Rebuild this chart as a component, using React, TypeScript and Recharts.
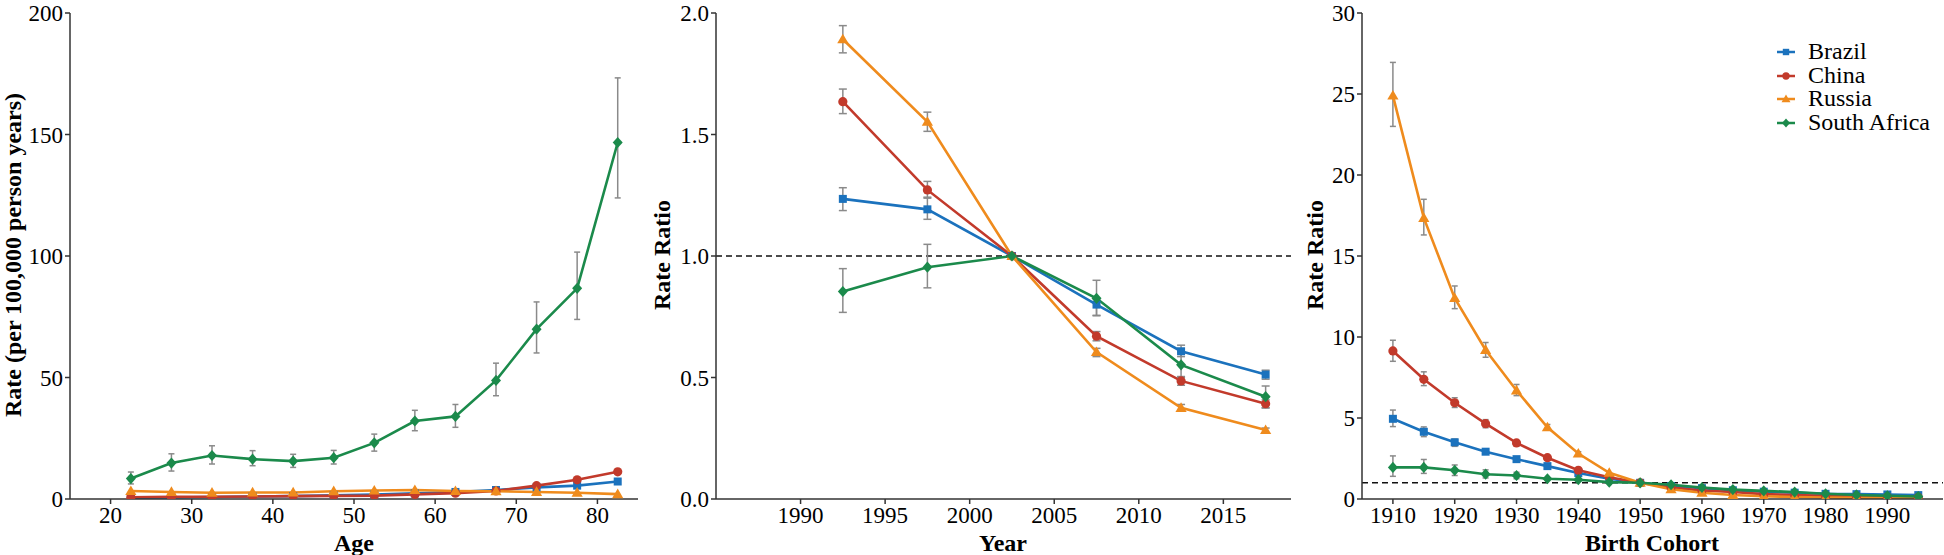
import { ErrorBar, Legend, Line, LineChart, ReferenceLine, XAxis, YAxis } from 'recharts'

// ---- colours ----
const BLUE = '#1b72bd'
const RED = '#c23a2b'
const ORANGE = '#ef8b1d'
const GREEN = '#1b8a4b'
const ERR = '#8a8a8a'

// ---- panel 1: age ----
const ageGroups = [22.5, 27.5, 32.5, 37.5, 42.5, 47.5, 52.5, 57.5, 62.5, 67.5, 72.5, 77.5, 82.5]
const ageTicks = [20, 30, 40, 50, 60, 70, 80]
const rateTicks = [0, 50, 100, 150, 200]
const brazilAge = [0.5, 0.6, 0.8, 1.0, 1.2, 1.5, 1.8, 2.3, 2.9, 3.7, 4.8, 5.5, 7.2]
const chinaAge = [0.7, 0.9, 0.9, 1.0, 1.2, 1.3, 1.4, 1.9, 2.4, 3.3, 5.5, 7.9, 11.2]
const russiaAge = [3.3, 2.9, 2.6, 2.7, 2.7, 3.2, 3.5, 3.7, 3.3, 3.2, 2.9, 2.6, 2.0]
const southAfricaAge = [8.4, 14.8, 17.9, 16.4, 15.6, 17.0, 23.1, 32.1, 34.0, 48.8, 69.9, 86.7, 146.7]
const southAfricaAgeLow = [6.2, 11.5, 14.4, 13.7, 13.0, 14.4, 19.7, 28.1, 29.5, 42.5, 60.1, 73.9, 123.9]
const southAfricaAgeHigh = [11.1, 18.6, 21.9, 19.9, 18.4, 20.0, 26.7, 36.5, 38.9, 55.9, 81.1, 101.6, 173.3]

// ---- panel 2: period ----
const periods = [1992.5, 1997.5, 2002.5, 2007.5, 2012.5, 2017.5]
const yearTicks = [1990, 1995, 2000, 2005, 2010, 2015]
const periodRatioTicks = [0, 0.5, 1, 1.5, 2]
const brazilPeriod = [1.235, 1.192, 1, 0.8, 0.608, 0.512]
const brazilPeriodLow = [1.187, 1.151, null, 0.756, 0.586, 0.493]
const brazilPeriodHigh = [1.281, 1.238, null, 0.824, 0.633, 0.53]
const chinaPeriod = [1.635, 1.272, 1, 0.67, 0.486, 0.392]
const chinaPeriodLow = [1.586, 1.242, null, 0.651, 0.468, 0.375]
const chinaPeriodHigh = [1.687, 1.307, null, 0.689, 0.504, 0.408]
const russiaPeriod = [1.892, 1.552, 1, 0.605, 0.375, 0.284]
const russiaPeriodLow = [1.836, 1.513, null, 0.586, 0.363, 0.271]
const russiaPeriodHigh = [1.948, 1.592, null, 0.62, 0.389, 0.292]
const southAfricaPeriod = [0.854, 0.954, 1, 0.826, 0.552, 0.421]
const southAfricaPeriodLow = [0.768, 0.869, null, 0.754, 0.5, 0.375]
const southAfricaPeriodHigh = [0.948, 1.048, null, 0.9, 0.605, 0.465]

// ---- panel 3: birth cohort ----
const cohorts = [1910, 1915, 1920, 1925, 1930, 1935, 1940, 1945, 1950, 1955, 1960, 1965, 1970, 1975, 1980, 1985, 1990, 1995]
const cohortTicks = [1910, 1920, 1930, 1940, 1950, 1960, 1970, 1980, 1990]
const cohortRatioTicks = [0, 5, 10, 15, 20, 25, 30]
const brazilCohort = [4.95, 4.15, 3.5, 2.92, 2.46, 2.03, 1.6, 1.25, 1.0, 0.8, 0.67, 0.54, 0.45, 0.39, 0.32, 0.3, 0.28, 0.24]
const brazilCohortLow = [4.47, 3.85, 3.25, 2.8, null, null, null, null, null, null, null, null, null, null, null, null, null, null]
const brazilCohortHigh = [5.49, 4.45, 3.7, 3.05, null, null, null, null, null, null, null, null, null, null, null, null, null, null]
const chinaCohort = [9.14, 7.39, 5.94, 4.65, 3.46, 2.55, 1.77, 1.34, 1.0, 0.71, 0.52, 0.43, 0.3, 0.24, 0.19, 0.15, 0.12, 0.1]
const chinaCohortLow = [8.5, 7.0, 5.65, 4.4, 3.3, null, null, null, null, null, null, null, null, null, null, null, null, null]
const chinaCohortHigh = [9.8, 7.85, 6.25, 4.9, 3.6, null, null, null, null, null, null, null, null, null, null, null, null, null]
const russiaCohort = [24.9, 17.35, 12.4, 9.2, 6.7, 4.43, 2.81, 1.62, 1.0, 0.6, 0.39, 0.25, 0.17, 0.12, 0.09, 0.07, 0.06, 0.05]
const russiaCohortLow = [23.0, 16.3, 11.75, 8.75, 6.38, 4.25, 2.7, null, null, null, null, null, null, null, null, null, null, null]
const russiaCohortHigh = [26.95, 18.5, 13.15, 9.66, 7.07, 4.6, 2.92, null, null, null, null, null, null, null, null, null, null, null]
const southAfricaCohort = [1.95, 1.95, 1.77, 1.53, 1.45, 1.25, 1.19, 1.04, 1.0, 0.88, 0.71, 0.58, 0.5, 0.43, 0.32, 0.25, 0.2, 0.15]
const southAfricaCohortLow = [1.4, 1.58, 1.45, 1.3, 1.25, null, null, null, null, null, null, null, null, null, null, null, null, null]
const southAfricaCohortHigh = [2.66, 2.44, 2.1, 1.8, 1.65, null, null, null, null, null, null, null, null, null, null, null, null, null]

const FONT = "'Liberation Serif', 'Times New Roman', serif"

type Bound = number | null | undefined

const err = (v: number, lo: Bound, hi: Bound) => (lo == null || hi == null ? null : [v - lo, hi - v])

const ageRows = ageGroups.map((x, i) => ({
  x,
  brazil: brazilAge[i],
  china: chinaAge[i],
  russia: russiaAge[i],
  sa: southAfricaAge[i],
  saErr: err(southAfricaAge[i], southAfricaAgeLow[i], southAfricaAgeHigh[i]),
}))

const periodRows = periods.map((x, i) => ({
  x,
  brazil: brazilPeriod[i],
  brazilErr: err(brazilPeriod[i], brazilPeriodLow[i], brazilPeriodHigh[i]),
  china: chinaPeriod[i],
  chinaErr: err(chinaPeriod[i], chinaPeriodLow[i], chinaPeriodHigh[i]),
  russia: russiaPeriod[i],
  russiaErr: err(russiaPeriod[i], russiaPeriodLow[i], russiaPeriodHigh[i]),
  sa: southAfricaPeriod[i],
  saErr: err(southAfricaPeriod[i], southAfricaPeriodLow[i], southAfricaPeriodHigh[i]),
}))

const cohortRows = cohorts.map((x, i) => ({
  x,
  brazil: brazilCohort[i],
  brazilErr: err(brazilCohort[i], brazilCohortLow[i], brazilCohortHigh[i]),
  china: chinaCohort[i],
  chinaErr: err(chinaCohort[i], chinaCohortLow[i], chinaCohortHigh[i]),
  russia: russiaCohort[i],
  russiaErr: err(russiaCohort[i], russiaCohortLow[i], russiaCohortHigh[i]),
  sa: southAfricaCohort[i],
  saErr: err(southAfricaCohort[i], southAfricaCohortLow[i], southAfricaCohortHigh[i]),
}))

type Shape = 'square' | 'circle' | 'triangle' | 'diamond'

function Marker({ cx, cy, shape, color, s = 1 }: { cx: number; cy: number; shape: Shape; color: string; s?: number }) {
  if (shape === 'square') return <rect x={cx - 4 * s} y={cy - 4 * s} width={8 * s} height={8 * s} fill={color} />
  if (shape === 'circle') return <circle cx={cx} cy={cy} r={4.6 * s} fill={color} />
  if (shape === 'triangle')
    return (
      <polygon
        points={`${cx},${cy - 5.6 * s} ${cx - 5.6 * s},${cy + 4 * s} ${cx + 5.6 * s},${cy + 4 * s}`}
        fill={color}
      />
    )
  return (
    <polygon
      points={`${cx},${cy - 5.6 * s} ${cx + 5 * s},${cy} ${cx},${cy + 5.6 * s} ${cx - 5 * s},${cy}`}
      fill={color}
    />
  )
}

const dot = (shape: Shape, color: string) => (p: any) => {
  if (p.cx == null || p.cy == null) return <g key={p.index} />
  return <Marker key={p.index} cx={p.cx} cy={p.cy} shape={shape} color={color} />
}

const countries = [
  { key: 'brazil', name: 'Brazil', color: BLUE, shape: 'square' as Shape },
  { key: 'china', name: 'China', color: RED, shape: 'circle' as Shape },
  { key: 'russia', name: 'Russia', color: ORANGE, shape: 'triangle' as Shape },
  { key: 'sa', name: 'South Africa', color: GREEN, shape: 'diamond' as Shape },
]

const tickStyle = { fontFamily: FONT, fontSize: 23, fill: '#000' }
const axisStroke = { stroke: '#333', strokeWidth: 1.5 }

function CountryLegend() {
  return (
    <div style={{ fontFamily: FONT, fontSize: 24, color: '#000' }}>
      {countries.map((c) => (
        <div key={c.key} style={{ display: 'flex', alignItems: 'center', height: 23.7 }}>
          <svg width={18} height={16} style={{ marginRight: 13 }}>
            <line x1={0} y1={8} x2={18} y2={8} stroke={c.color} strokeWidth={2.5} />
            <Marker cx={9} cy={8} shape={c.shape} color={c.color} s={0.8} />
          </svg>
          <span style={{ lineHeight: '23.7px' }}>{c.name}</span>
        </div>
      ))}
    </div>
  )
}

function Panel({
  left,
  width,
  yWidth,
  right,
  data,
  xDomain,
  xTicks,
  yDomain,
  yTicks,
  yFormat,
  errKeys,
  capWidth,
  refLine,
  legend,
}: {
  left: number
  width: number
  yWidth: number
  right: number
  data: any[]
  xDomain: [number, number]
  xTicks: number[]
  yDomain: [number, number]
  yTicks: number[]
  yFormat?: (v: number) => string
  errKeys: string[]
  capWidth: number
  refLine?: boolean
  legend?: boolean
}) {
  return (
    <div style={{ position: 'absolute', left, top: 0 }}>
      <LineChart width={width} height={555} data={data} margin={{ top: 13, right, bottom: 0, left: 0 }}>
        <XAxis
          dataKey="x"
          type="number"
          domain={xDomain}
          ticks={xTicks}
          interval={0}
          allowDataOverflow
          height={56}
          tick={tickStyle}
          tickSize={5}
          tickMargin={3}
          axisLine={axisStroke}
          tickLine={axisStroke}
        />
        <YAxis
          type="number"
          domain={yDomain}
          ticks={yTicks}
          interval={0}
          allowDataOverflow
          width={yWidth}
          tick={tickStyle}
          tickSize={5}
          tickMargin={2}
          tickFormatter={yFormat}
          axisLine={axisStroke}
          tickLine={axisStroke}
        />
        {refLine && <ReferenceLine y={1} stroke="#111" strokeWidth={1.5} strokeDasharray="6 4" />}
        {countries.map((c) => (
          <Line
            key={c.key}
            dataKey={c.key}
            name={c.name}
            stroke={c.color}
            strokeWidth={2.6}
            type="linear"
            dot={dot(c.shape, c.color)}
            activeDot={false}
            isAnimationActive={false}
          >
            {errKeys.includes(c.key) && (
              <ErrorBar
                dataKey={`${c.key}Err`}
                width={capWidth}
                strokeWidth={1.5}
                stroke={ERR}
                isAnimationActive={false}
              />
            )}
          </Line>
        ))}
        {legend && (
          <Legend
            layout="vertical"
            align="center"
            verticalAlign="middle"
            content={<CountryLegend />}
            wrapperStyle={{ position: 'absolute', left: 477, top: 40, width: 'auto', height: 'auto' }}
          />
        )}
      </LineChart>
    </div>
  )
}

const titleBase = {
  position: 'absolute' as const,
  fontFamily: FONT,
  fontWeight: 700,
  fontSize: 24,
  color: '#000',
  whiteSpace: 'nowrap' as const,
  lineHeight: 1,
}

function XTitle({ cx, text }: { cx: number; text: string }) {
  return <div style={{ ...titleBase, left: cx, top: 531, transform: 'translateX(-50%)' }}>{text}</div>
}

function YTitle({ cx, text }: { cx: number; text: string }) {
  return (
    <div style={{ ...titleBase, left: cx, top: 255, transform: 'translate(-50%, -50%) rotate(-90deg)' }}>{text}</div>
  )
}

export default function App() {
  return (
    <div
      style={{ position: 'absolute', left: 0, top: 0, width: 1944, height: 555, background: '#fff', overflow: 'hidden' }}
    >
      <Panel
        left={0}
        width={650}
        yWidth={70}
        right={12}
        data={ageRows}
        xDomain={[15, 85]}
        xTicks={ageTicks}
        yDomain={[0, 200]}
        yTicks={rateTicks}
        errKeys={['sa']}
        capWidth={3}
      />
      <Panel
        left={650}
        width={650}
        yWidth={66}
        right={9}
        data={periodRows}
        xDomain={[1985, 2019]}
        xTicks={yearTicks}
        yDomain={[0, 2]}
        yTicks={periodRatioTicks}
        yFormat={(v) => v.toFixed(1)}
        errKeys={['brazil', 'china', 'russia', 'sa']}
        capWidth={4}
        refLine
      />
      <Panel
        left={1300}
        width={644}
        yWidth={62}
        right={1}
        data={cohortRows}
        xDomain={[1905, 1999]}
        xTicks={cohortTicks}
        yDomain={[0, 30]}
        yTicks={cohortRatioTicks}
        errKeys={['brazil', 'china', 'russia', 'sa']}
        capWidth={3}
        refLine
        legend
      />
      <XTitle cx={354} text="Age" />
      <XTitle cx={1003} text="Year" />
      <XTitle cx={1652} text="Birth Cohort" />
      <YTitle cx={13} text="Rate (per 100,000 person years)" />
      <YTitle cx={662} text="Rate Ratio" />
      <YTitle cx={1315} text="Rate Ratio" />
    </div>
  )
}
